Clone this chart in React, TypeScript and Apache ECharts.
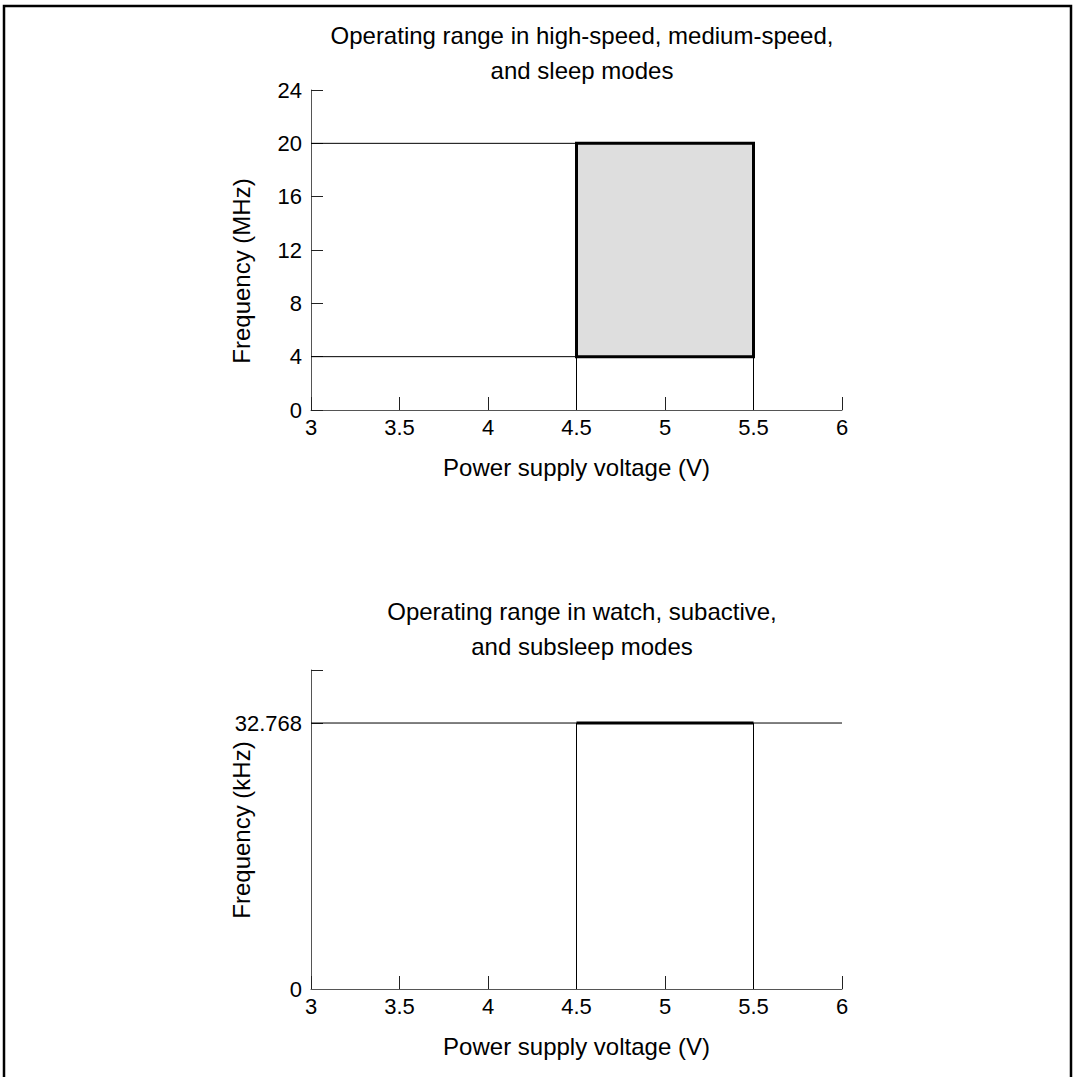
import React, { useEffect, useRef } from "react";
import * as echarts from "echarts";

// ---- data ----
const voltageMin = 3;
const voltageMax = 6;
const voltageStep = 0.5;
const mhzTicks = [0, 4, 8, 12, 16, 20, 24];
const khzLabelValues = [0, 32.768];
const khzAxisMax = 39.3;
const highSpeedVoltage = [4.5, 5.5]; // V
const highSpeedFreq = [4, 20]; // MHz
const subVoltage = [4.5, 5.5]; // V
const subFreq = 32.768; // kHz

const titleTop = "Operating range in high-speed, medium-speed,\nand sleep modes";
const titleBottom = "Operating range in watch, subactive,\nand subsleep modes";
const xName = "Power supply voltage (V)";
const yNameTop = "Frequency (MHz)";
const yNameBottom = "Frequency (kHz)";

const FONT = "'Liberation Sans', Arial, Helvetica, sans-serif";
const TICK_FS = 22;
const NAME_FS = 24;

function App() {
  const ref = useRef<HTMLDivElement>(null);
  useEffect(() => {
    if (!ref.current) return;
    const chart = echarts.init(ref.current, undefined, { renderer: "svg" });

    const xAxisBase = (gridIndex: number) => ({
      type: "value",
      gridIndex,
      min: voltageMin,
      max: voltageMax,
      interval: voltageStep,
      name: xName,
      nameLocation: "middle",
      nameGap: 45,
      nameTextStyle: { fontSize: NAME_FS, color: "#000", fontFamily: FONT },
      axisLine: { show: true, onZero: false, lineStyle: { color: "#555", width: 1 } },
      axisTick: { show: true, inside: true, length: 13, lineStyle: { color: "#222", width: 1 } },
      splitLine: { show: false },
      axisLabel: {
        color: "#000",
        fontSize: TICK_FS,
        fontFamily: FONT,
        margin: 6,
        formatter: (v: number) => String(v),
      },
    });

    const seg = (data: number[][], xi: number, width = 1) => ({
      type: "line",
      xAxisIndex: xi,
      yAxisIndex: xi,
      data,
      symbol: "none",
      silent: true,
      lineStyle: { color: "#000", width },
      z: 3,
    });

    const titleStyle = { fontSize: NAME_FS, lineHeight: 35, fontWeight: "normal", color: "#000", fontFamily: FONT };

    const option: any = {
      animation: false,
      backgroundColor: "#fff",
      textStyle: { fontFamily: FONT },
      title: [
        { text: titleTop, left: 577, top: 13, textAlign: "center", textStyle: titleStyle },
        { text: titleBottom, left: 577, top: 589, textAlign: "center", textStyle: titleStyle },
      ],
      grid: [
        { left: 311, top: 90, width: 531, height: 320, containLabel: false },
        { left: 311, top: 670, width: 531, height: 319, containLabel: false },
      ],
      xAxis: [xAxisBase(0), xAxisBase(1)],
      yAxis: [
        {
          type: "value",
          gridIndex: 0,
          min: mhzTicks[0],
          max: mhzTicks[mhzTicks.length - 1],
          interval: mhzTicks[1] - mhzTicks[0],
          axisLine: { show: true, onZero: false, lineStyle: { color: "#555", width: 1 } },
          axisTick: { show: true, inside: true, length: 12, lineStyle: { color: "#222", width: 1 } },
          splitLine: { show: false },
          axisLabel: { color: "#000", fontSize: TICK_FS, fontFamily: FONT, margin: 9 },
        },
        {
          type: "value",
          gridIndex: 1,
          min: 0,
          max: khzAxisMax,
          axisLine: { show: true, onZero: false, lineStyle: { color: "#555", width: 1 } },
          axisTick: {
            show: true,
            inside: true,
            length: 12,
            customValues: [subFreq, khzAxisMax],
            lineStyle: { color: "#222", width: 1 },
          },
          splitLine: { show: false },
          axisLabel: {
            color: "#000",
            fontSize: TICK_FS,
            fontFamily: FONT,
            margin: 9,
            customValues: khzLabelValues,
            formatter: (v: number) => (v === 0 ? "0" : v.toFixed(3)),
          },
        },
      ],
      graphic: [
        {
          type: "rect",
          shape: { x: 4, y: 6, width: 1067, height: 1120 },
          style: { fill: "none", stroke: "#000", lineWidth: 2.5 },
          silent: true,
          z: 100,
        },
        {
          type: "text",
          x: 241,
          y: 271,
          rotation: Math.PI / 2,
          style: { text: yNameTop, fontSize: NAME_FS, fill: "#000", fontFamily: FONT, align: "center", verticalAlign: "middle" },
        },
        {
          type: "text",
          x: 241,
          y: 830,
          rotation: Math.PI / 2,
          style: { text: yNameBottom, fontSize: NAME_FS, fill: "#000", fontFamily: FONT, align: "center", verticalAlign: "middle" },
        },
      ],
      series: [
        // top chart: guide lines
        seg([[voltageMin, highSpeedFreq[1]], [highSpeedVoltage[0], highSpeedFreq[1]]], 0),
        seg([[voltageMin, highSpeedFreq[0]], [highSpeedVoltage[0], highSpeedFreq[0]]], 0),
        seg([[highSpeedVoltage[0], 0], [highSpeedVoltage[0], highSpeedFreq[0]]], 0),
        seg([[highSpeedVoltage[1], 0], [highSpeedVoltage[1], highSpeedFreq[0]]], 0),
        {
          type: "custom",
          xAxisIndex: 0,
          yAxisIndex: 0,
          silent: true,
          z: 4,
          data: [[highSpeedVoltage[0], highSpeedFreq[0], highSpeedVoltage[1], highSpeedFreq[1]]],
          renderItem: (params: any, api: any) => {
            const p1 = api.coord([api.value(0), api.value(1)]);
            const p2 = api.coord([api.value(2), api.value(3)]);
            return {
              type: "rect",
              shape: {
                x: Math.min(p1[0], p2[0]),
                y: Math.min(p1[1], p2[1]),
                width: Math.abs(p2[0] - p1[0]),
                height: Math.abs(p2[1] - p1[1]),
              },
              style: { fill: "#dedede", stroke: "#000", lineWidth: 3 },
            };
          },
        },
        // bottom chart
        seg([[voltageMin, subFreq], [voltageMax, subFreq]], 1),
        seg([[subVoltage[0], 0], [subVoltage[0], subFreq]], 1),
        seg([[subVoltage[1], 0], [subVoltage[1], subFreq]], 1),
        seg([[subVoltage[0], subFreq], [subVoltage[1], subFreq]], 1, 3),
      ],
    };

    chart.setOption(option);
    return () => chart.dispose();
  }, []);

  return (
    <div
      ref={ref}
      style={{ position: "absolute", left: 0, top: 0, width: 1075, height: 1077, background: "#fff" }}
    />
  );
}

export default App;
